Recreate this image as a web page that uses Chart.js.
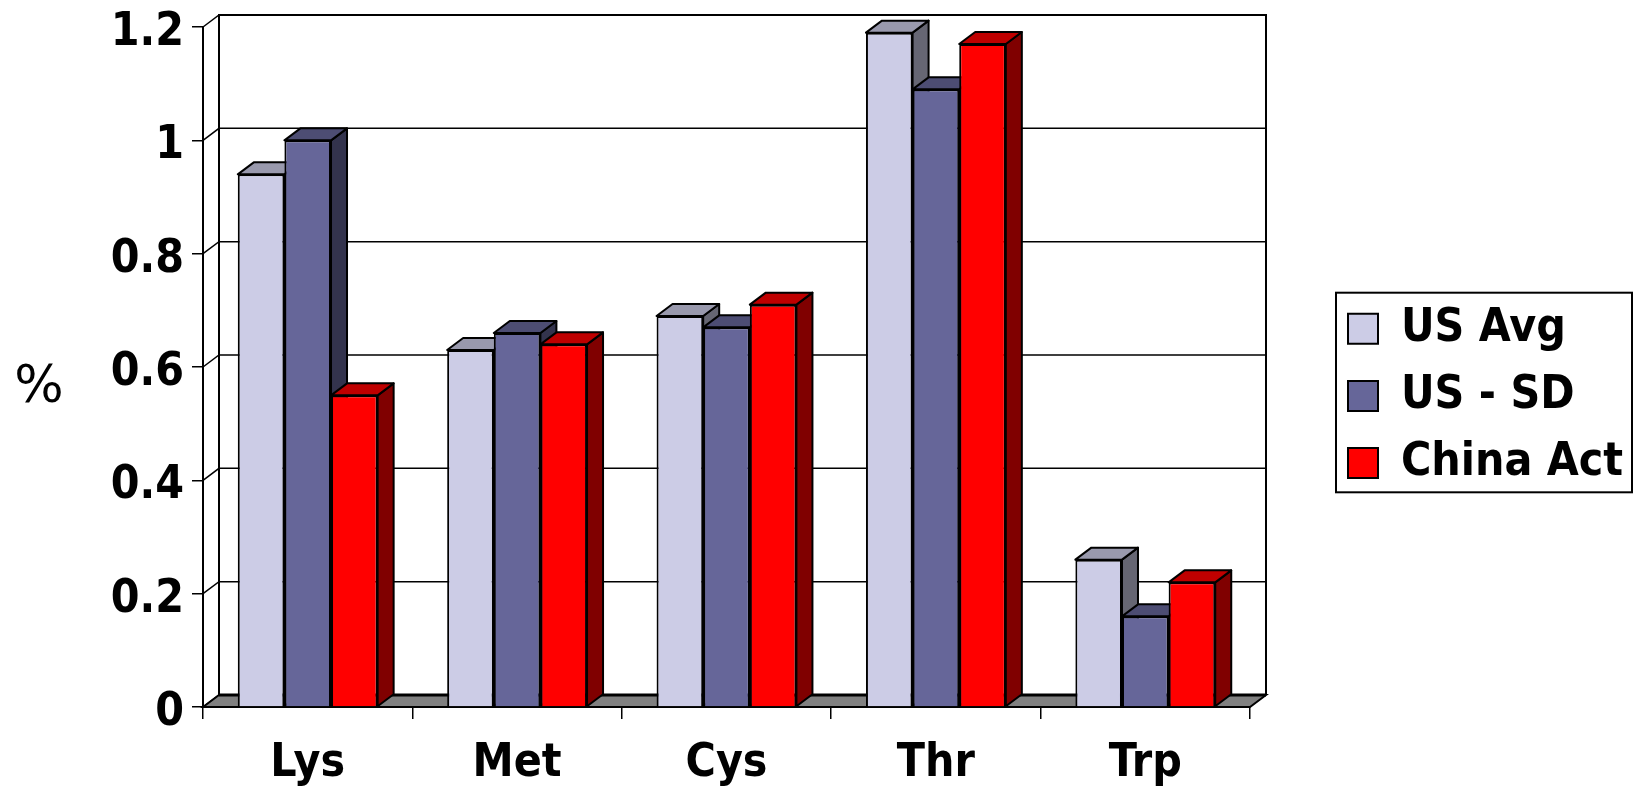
<!DOCTYPE html>
<html>
<head>
<meta charset="utf-8">
<style>
  html, body { margin: 0; padding: 0; background: #fff; }
  #wrap { width: 1638px; height: 786px; }
</style>
</head>
<body>
<div id="wrap"><canvas id="chart"></canvas></div>
<script src="https://cdn.jsdelivr.net/npm/chart.js@4"></script>
<script>
const categories = ['Lys', 'Met', 'Cys', 'Thr', 'Trp'];
const usAvg = [0.94, 0.63, 0.69, 1.19, 0.26];
const usSd = [1.0, 0.66, 0.67, 1.09, 0.16];
const chinaAct = [0.55, 0.64, 0.71, 1.17, 0.22];
const yAxisLabel = '%';

const fontFamily = "'DejaVu Sans Condensed', 'DejaVu Sans', sans-serif";
const depthX = 16;
const depthY = 12;

// faces of a bar as [front, top, side]
const lightFaces = ['#cccce6', '#9999ad', '#666673'];
const darkFaces = ['#666699', '#4d4d73', '#33334d'];
const redFaces = ['#ff0000', '#bf0000', '#800000'];

function poly(ctx, pts, fill) {
  ctx.beginPath();
  pts.forEach((p, i) => i ? ctx.lineTo(p[0], p[1]) : ctx.moveTo(p[0], p[1]));
  ctx.closePath();
  if (fill) {
    ctx.fillStyle = fill;
    ctx.fill();
  }
  ctx.stroke();
}

/* back wall, floor and the slanted tick lines */
const wallPlugin = {
  id: 'wall',
  beforeDatasetsDraw(chart) {
    const ctx = chart.ctx;
    const area = chart.chartArea;
    const yScale = chart.scales.y;
    ctx.save();
    ctx.strokeStyle = '#000';
    ctx.lineWidth = 1.5;
    yScale.ticks.forEach(t => {
      const py = yScale.getPixelForValue(t.value);
      ctx.beginPath();
      ctx.moveTo(area.left, py);
      ctx.lineTo(area.left + depthX, py - depthY);
      ctx.lineTo(area.right + depthX, py - depthY);
      ctx.stroke();
    });
    ctx.lineWidth = 2;
    ctx.beginPath();
    ctx.moveTo(area.left + depthX, area.bottom - depthY);
    ctx.lineTo(area.left + depthX, area.top - depthY);
    ctx.lineTo(area.right + depthX, area.top - depthY);
    ctx.lineTo(area.right + depthX, area.bottom - depthY);
    ctx.stroke();
    poly(ctx, [
      [area.left, area.bottom],
      [area.left + depthX, area.bottom - depthY],
      [area.right + depthX, area.bottom - depthY],
      [area.right, area.bottom]
    ], '#808080');
    ctx.lineWidth = 3;
    ctx.beginPath();
    ctx.moveTo(area.left + depthX, area.bottom - depthY);
    ctx.lineTo(area.right + depthX, area.bottom - depthY);
    ctx.stroke();

    // tops and sides of the bars, the fronts are drawn by the library on top
    ctx.lineWidth = 2;
    ctx.lineJoin = 'round';
    categories.forEach((c, j) => {
      chart.data.datasets.forEach((ds, i) => {
        const bar = chart.getDatasetMeta(i).data[j];
        const l = bar.x - bar.width / 2;
        const r = bar.x + bar.width / 2;
        poly(ctx, [[r, bar.y], [r + depthX, bar.y - depthY], [r + depthX, bar.base - depthY], [r, bar.base]], ds.faces[2]);
        poly(ctx, [[l, bar.y], [l + depthX, bar.y - depthY], [r + depthX, bar.y - depthY], [r, bar.y]], ds.faces[1]);
      });
    });
    ctx.restore();
  },
  afterDraw(chart) {
    const ctx = chart.ctx;
    const lg = chart.legend;
    const hits = lg.legendHitBoxes;
    const last = hits[hits.length - 1];
    ctx.save();
    // frame round the legend
    ctx.strokeStyle = '#000';
    ctx.lineWidth = 2;
    ctx.strokeRect(lg.left, hits[0].top - 13, lg.width, last.top + last.height - hits[0].top + 10);
    // the % label sits upright, which the axis title can't do
    ctx.fillStyle = '#000';
    ctx.font = "52px 'DejaVu Sans', sans-serif";
    ctx.textAlign = 'center';
    ctx.textBaseline = 'middle';
    ctx.fillText(yAxisLabel, 39, 388);
    ctx.restore();
  }
};

function makeSet(label, data, faces) {
  return {
    label: label,
    data: data,
    faces: faces,
    backgroundColor: faces[0],
    borderColor: '#000',
    borderWidth: 2,
    categoryPercentage: 0.668,
    barPercentage: 1
  };
}

new Chart(document.getElementById('chart'), {
  type: 'bar',
  data: {
    labels: categories,
    datasets: [
      makeSet('US Avg', usAvg, lightFaces),
      makeSet('US - SD', usSd, darkFaces),
      makeSet('China Act', chinaAct, redFaces)
    ]
  },
  plugins: [wallPlugin],
  options: {
    responsive: true,
    maintainAspectRatio: false,
    animation: false,
    layout: { padding: { left: 0, right: 6, top: 15, bottom: 0 } },
    plugins: {
      tooltip: { enabled: false },
      legend: {
        position: 'right',
        maxWidth: 296,
        labels: {
          color: '#000',
          boxWidth: 30,
          boxHeight: 30,
          padding: 12,
          font: { family: fontFamily, size: 46, weight: 'bold', lineHeight: 1.2 },
          // array text makes the legend use the font line height for its rows
          generateLabels: chart => Chart.defaults.plugins.legend.labels.generateLabels(chart).map(item => ({ ...item, text: [item.text] }))
        }
      }
    },
    scales: {
      x: {
        grid: { drawOnChartArea: false, tickLength: 12, color: '#000', lineWidth: 1.5 },
        border: { color: '#000', width: 2 },
        ticks: {
          color: '#000',
          padding: 17,
          maxRotation: 0,
          font: { family: fontFamily, size: 46, weight: 'bold' }
        },
        afterFit: s => { s.height = 79; }
      },
      y: {
        min: 0,
        max: 1.2,
        grid: { drawOnChartArea: false, tickLength: 11, color: '#000', lineWidth: 1.5 },
        border: { color: '#000', width: 2 },
        ticks: {
          stepSize: 0.2,
          color: '#000',
          padding: 8,
          labelOffset: 6,
          font: { family: fontFamily, size: 46, weight: 'bold' },
          callback: v => String(+v.toFixed(1))
        },
        afterFit: s => {
          s.width = 203;
          s.paddingTop = 0;
          s.paddingBottom = 0;
        }
      },
      // empty axes, they only keep the plot away from the legend and the top edge
      gap: {
        axis: 'y',
        position: 'right',
        grid: { display: false },
        border: { display: false },
        ticks: { display: false },
        afterFit: s => { s.width = 86; }
      },
      topGap: {
        axis: 'x',
        position: 'top',
        grid: { display: false },
        border: { display: false },
        ticks: { display: false },
        afterFit: s => { s.height = 12; }
      }
    }
  }
});
</script>
</body>
</html>
